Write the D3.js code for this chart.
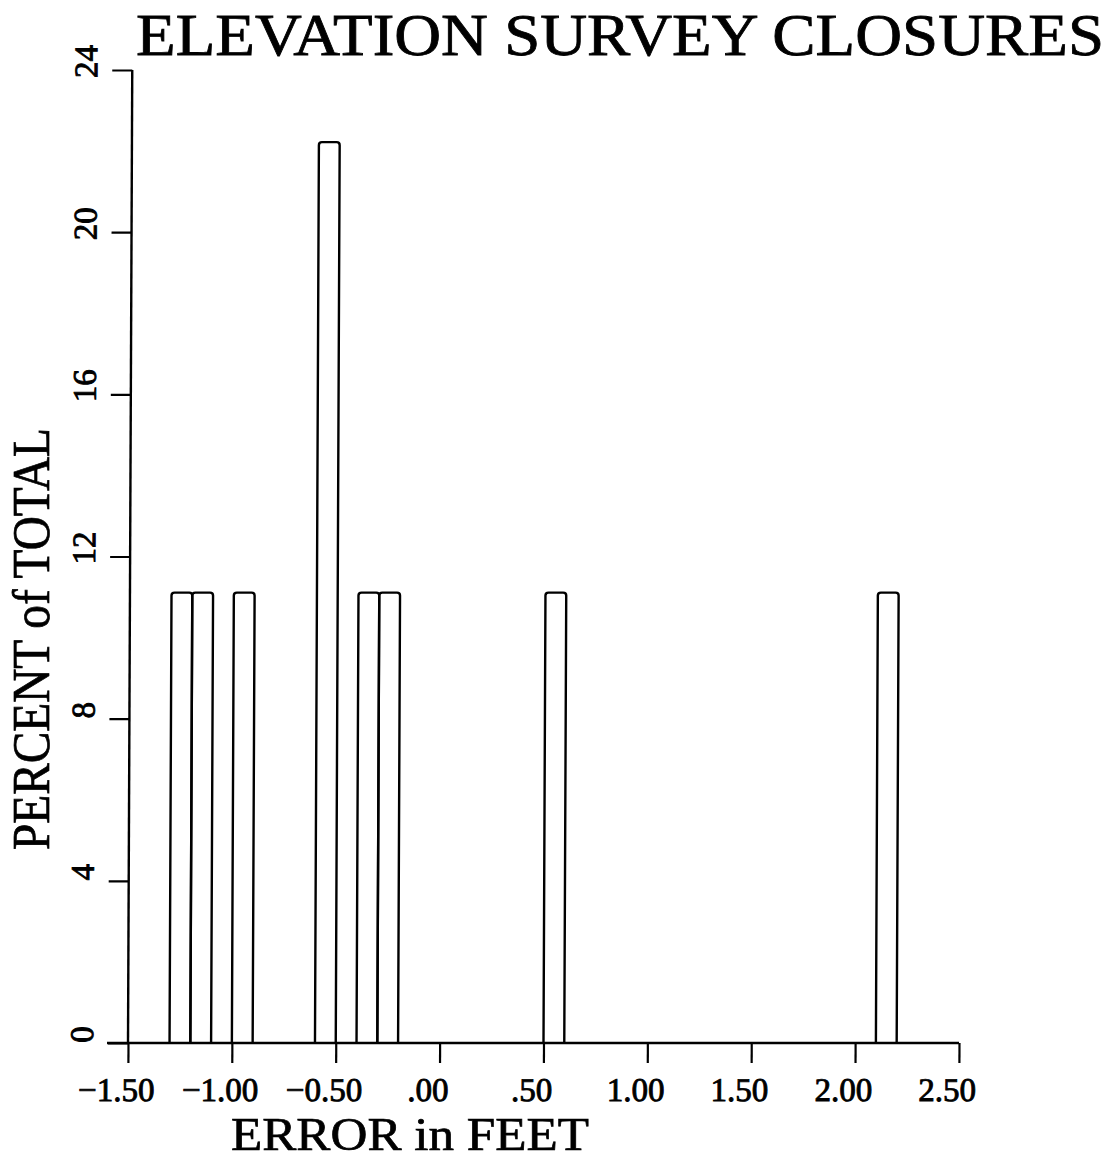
<!DOCTYPE html>
<html>
<head>
<meta charset="utf-8">
<script src="https://cdn.jsdelivr.net/npm/d3@7"></script>
<style>
  html, body { margin: 0; padding: 0; background: #fff; }
  svg { display: block; }
  text { font-family: "Liberation Serif", "DejaVu Serif", serif; fill: #000; }
</style>
</head>
<body>
<svg id="chart" width="1117" height="1161"></svg>
<script>
// Histogram of elevation survey closure errors (bin width 0.10 ft)
const binStarts = [-1.3, -1.2, -1.0, -0.6, -0.4, -0.3, 0.5, 2.1];
const binWidth = 0.1;
const percents = [11.11, 11.11, 11.11, 22.22, 11.11, 11.11, 11.11, 11.11];

const xTicks = [-1.5, -1.0, -0.5, 0, 0.5, 1.0, 1.5, 2.0, 2.5];
const xTickLabels = ["\u22121.50", "\u22121.00", "\u22120.50", ".00", ".50", "1.00", "1.50", "2.00", "2.50"];
const yTicks = [0, 4, 8, 12, 16, 20, 24];
const yTickLabels = ["0", "4", "8", "12", "16", "20", "24"];

const svg = d3.select("#chart");
const ink = "#000";

const x = d3.scaleLinear().domain([-1.5, 2.5]).range([128, 959]);
const y = d3.scaleLinear().domain([0, 24]).range([1043, 70]);

// plot frame leans very slightly, like a hand-fed plotter sheet
const plot = svg.append("g")
  .attr("transform", `translate(0,${y(0)}) skewX(-0.25) translate(0,${-y(0)})`);

// Bars: open outlines with slightly rounded top corners
const r = 3;
plot.append("g")
  .selectAll("path")
  .data(binStarts.map((s, i) => ({ s, p: percents[i] })))
  .join("path")
  .attr("d", d => {
    const x0 = x(d.s), x1 = x(d.s + binWidth), y0 = y(0), y1 = y(d.p);
    return `M${x0},${y0} L${x0},${y1 + r} Q${x0},${y1} ${x0 + r},${y1} L${x1 - r},${y1} Q${x1},${y1} ${x1},${y1 + r} L${x1},${y0}`;
  })
  .attr("fill", "none")
  .attr("stroke", ink)
  .attr("stroke-width", 2.4);

const labelFont = g => g
  .attr("font-size", 33)
  .attr("font-family", "Liberation Serif, DejaVu Serif, serif")
  .attr("stroke", ink)
  .attr("stroke-width", 0.9);

// X axis
const xAxis = d3.axisBottom(x)
  .tickValues(xTicks)
  .tickFormat((d, i) => xTickLabels[i])
  .tickSize(20)
  .tickSizeOuter(0)
  .tickPadding(15);
const gx = plot.append("g").attr("transform", `translate(0,${y(0)})`).call(xAxis);
gx.select(".domain").remove();
gx.selectAll(".tick line").attr("stroke", ink).attr("stroke-width", 2.2);
gx.selectAll(".tick text").attr("dx", -12).call(labelFont);
// baseline across the full width, reaching left past the y axis
plot.append("line")
  .attr("x1", x(-1.5) - 21).attr("x2", x(2.5))
  .attr("y1", y(0)).attr("y2", y(0))
  .attr("stroke", ink).attr("stroke-width", 2.4);

// Y axis
const yAxis = d3.axisLeft(y)
  .tickValues(yTicks)
  .tickFormat((d, i) => yTickLabels[i])
  .tickSize(20)
  .tickSizeOuter(0);
const gy = plot.append("g").attr("transform", `translate(${x(-1.5)},0)`).call(yAxis);
gy.select(".domain").remove();
gy.selectAll(".tick line").attr("stroke", ink).attr("stroke-width", 2.2);
gy.selectAll(".tick text")
  .attr("x", null).attr("dy", null)
  .attr("text-anchor", "middle")
  .attr("transform", "translate(-35,-9) rotate(-90)")
  .call(labelFont);
plot.append("line")
  .attr("x1", x(-1.5)).attr("x2", x(-1.5))
  .attr("y1", y(24)).attr("y2", y(0))
  .attr("stroke", ink).attr("stroke-width", 2.4);

// Titles
svg.append("text")
  .attr("x", 136).attr("y", 55)
  .attr("font-size", 60)
  .attr("stroke", ink).attr("stroke-width", 0.8)
  .attr("textLength", 968)
  .attr("lengthAdjust", "spacingAndGlyphs")
  .text("ELEVATION SURVEY CLOSURES");

svg.append("text")
  .attr("x", 231).attr("y", 1150)
  .attr("font-size", 46)
  .attr("stroke", ink).attr("stroke-width", 0.7)
  .attr("textLength", 358)
  .attr("lengthAdjust", "spacingAndGlyphs")
  .text("ERROR in FEET");

svg.append("text")
  .attr("transform", "translate(49,850) rotate(-90)")
  .attr("font-size", 52)
  .attr("stroke", ink).attr("stroke-width", 0.7)
  .attr("textLength", 422)
  .attr("lengthAdjust", "spacingAndGlyphs")
  .text("PERCENT of TOTAL");
</script>
</body>
</html>
